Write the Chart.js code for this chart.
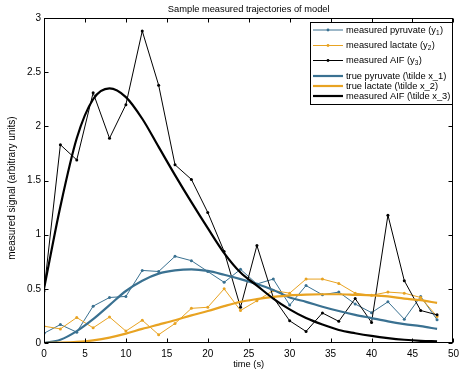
<!DOCTYPE html>
<html><head><meta charset="utf-8">
<script src="https://cdn.jsdelivr.net/npm/chart.js@4/dist/chart.umd.min.js"></script>
<style>html,body{margin:0;padding:0;background:#fff;overflow:hidden}canvas{display:block}</style>
</head><body>
<canvas id="c" width="464" height="375"></canvas>
<script>
const times = [0,2,4,6,8,10,12,14,16,18,20,22,24,26,28,30,32,34,36,38,40,42,44,46,48];
const measuredPyruvate = [0.09,0.17,0.10,0.34,0.42,0.43,0.67,0.66,0.80,0.76,0.66,0.56,0.68,0.545,0.59,0.35,0.53,0.445,0.47,0.36,0.28,0.38,0.22,0.43,0.215];
const measuredLactate = [0.155,0.13,0.235,0.14,0.24,0.11,0.21,0.077,0.18,0.32,0.33,0.50,0.30,0.39,0.485,0.46,0.59,0.59,0.55,0.46,0.44,0.47,0.46,0.42,0.245];
const measuredAIF = [0.48,1.83,1.69,2.31,1.89,2.20,2.88,2.38,1.645,1.51,1.205,0.845,0.33,0.90,0.42,0.205,0.107,0.277,0.2,0.41,0.19,1.18,0.575,0.30,0.26];
const truePyruvate = [0,0.03,0.11,0.22,0.35,0.48,0.575,0.64,0.67,0.68,0.665,0.63,0.59,0.545,0.49,0.42,0.38,0.335,0.295,0.26,0.23,0.2,0.175,0.155,0.13];
const trueLactate = [0,0.003,0.01,0.025,0.05,0.086,0.13,0.17,0.21,0.255,0.295,0.34,0.38,0.405,0.425,0.44,0.447,0.45,0.45,0.445,0.44,0.43,0.41,0.395,0.37];
const trueAIF = [0.5,1.26,1.89,2.25,2.35,2.27,2.07,1.81,1.55,1.30,1.06,0.83,0.65,0.53,0.41,0.31,0.23,0.17,0.12,0.09,0.065,0.045,0.03,0.02,0.015];
const xTicks = [0,5,10,15,20,25,30,35,40,45,50];
const yTicks = [0,0.5,1,1.5,2,2.5,3];
const chartTitle = 'Sample measured trajectories of model';
const xTitle = 'time (s)';
const yTitle = 'measured signal (arbitrary units)';
const legendLabels = [
  ['measured pyruvate (y','1',')'],
  ['measured lactate (y','2',')'],
  ['measured AIF (y','3',')'],
  ['true pyruvate (\\tilde x_1)','',''],
  ['true lactate (\\tilde x_2)','',''],
  ['measured AIF (\\tilde x_3)','','']
];

const FONT = '"Liberation Sans", Arial, Helvetica, sans-serif';
const BLUE = '#3a7191', ORANGE = '#e8a322', BLACK = '#000000';
const pts = arr => times.map((t,i)=>({x:t,y:arr[i]}));
function measured(arr,color,order){
  return {data:pts(arr),borderColor:color,backgroundColor:color,borderWidth:1,pointRadius:1.5,pointBorderWidth:0,pointHoverRadius:0,tension:0,order:order,fill:false};
}
function truth(arr,color,order){
  return {data:pts(arr),borderColor:color,backgroundColor:color,borderWidth:2.2,pointRadius:0,cubicInterpolationMode:'monotone',order:order,fill:false};
}

const decor = {
  id:'decor',
  afterDatasetsDraw(chart){
    const ctx = chart.ctx, a = chart.chartArea, xs = chart.scales.x, ys = chart.scales.y;
    ctx.save();
    ctx.strokeStyle = '#000'; ctx.lineWidth = 1;
    const L = Math.round(a.left)+0.5, R = Math.round(a.right)-0.5, T = Math.round(a.top)+0.5, B = Math.round(a.bottom)-0.5;
    ctx.strokeRect(L, T, R-L, B-T);
    ctx.beginPath();
    xTicks.forEach(v=>{const x = Math.round(xs.getPixelForValue(v))+0.5; ctx.moveTo(x,B); ctx.lineTo(x,B-4); ctx.moveTo(x,T); ctx.lineTo(x,T+4);});
    yTicks.forEach(v=>{const y = Math.round(ys.getPixelForValue(v))+0.5; ctx.moveTo(L,y); ctx.lineTo(L+4,y); ctx.moveTo(R,y); ctx.lineTo(R-4,y);});
    ctx.stroke();
    ctx.fillStyle = '#000';
    ctx.textAlign = 'center'; ctx.textBaseline = 'middle';
    ctx.font = '9.3px ' + FONT;
    ctx.fillText(chartTitle, (a.left+a.right)/2, 9);
    ctx.fillText(xTitle, (a.left+a.right)/2, 364);
    ctx.save();
    ctx.font = '10px ' + FONT;
    ctx.translate(12, 188); ctx.rotate(-Math.PI/2);
    ctx.fillText(yTitle, 0, 0);
    ctx.restore();
    const bx = 310.5, by = 22.5, bw = 142, bh = 82;
    ctx.fillStyle = '#fff'; ctx.fillRect(bx, by, bw, bh);
    ctx.strokeStyle = '#000'; ctx.lineWidth = 1; ctx.strokeRect(bx, by, bw, bh);
    const rows = [30, 45.5, 60.5, 76, 86, 96];
    chart.data.datasets.forEach((ds,i)=>{
      const y = rows[i];
      ctx.strokeStyle = ds.borderColor; ctx.lineWidth = ds.borderWidth;
      ctx.beginPath(); ctx.moveTo(313, y); ctx.lineTo(343, y); ctx.stroke();
      if (ds.pointRadius > 0){ ctx.fillStyle = ds.borderColor; ctx.beginPath(); ctx.arc(328, y, 1.4, 0, Math.PI*2); ctx.fill(); }
      const lab = legendLabels[i];
      ctx.fillStyle = '#000'; ctx.textAlign = 'left'; ctx.textBaseline = 'middle';
      ctx.font = '9.3px ' + FONT;
      let x = 346;
      ctx.fillText(lab[0], x, y); x += ctx.measureText(lab[0]).width;
      if (lab[1]){
        ctx.font = '6.5px ' + FONT; ctx.fillText(lab[1], x, y+3); x += ctx.measureText(lab[1]).width;
        ctx.font = '9.3px ' + FONT; ctx.fillText(lab[2], x+0.5, y);
      }
    });
    ctx.restore();
  }
};

new Chart(document.getElementById('c').getContext('2d'), {
  type:'line',
  data:{datasets:[
    measured(measuredPyruvate, BLUE, 6),
    measured(measuredLactate, ORANGE, 5),
    measured(measuredAIF, BLACK, 4),
    truth(truePyruvate, BLUE, 3),
    truth(trueLactate, ORANGE, 2),
    truth(trueAIF, BLACK, 1)
  ]},
  options:{
    responsive:false, animation:false, devicePixelRatio:1,
    layout:{padding:{top:18,right:7,left:0,bottom:0}},
    plugins:{legend:{display:false},tooltip:{enabled:false},title:{display:false}},
    scales:{
      x:{type:'linear',min:0,max:50,
        afterBuildTicks:s=>{s.ticks = xTicks.map(v=>({value:v}));},
        afterFit:s=>{s.height = 32;},
        grid:{display:false,drawTicks:false}, border:{display:false},
        ticks:{padding:5,color:'#000',font:{family:FONT,size:10},maxRotation:0,autoSkip:false,callback:v=>String(v)}},
      y:{type:'linear',min:0,max:3,
        afterBuildTicks:s=>{s.ticks = yTicks.map(v=>({value:v}));},
        afterFit:s=>{s.width = 44;},
        grid:{display:false,drawTicks:false}, border:{display:false},
        ticks:{padding:3,color:'#000',font:{family:FONT,size:10},autoSkip:false,callback:v=>String(v)}}
    }
  },
  plugins:[decor]
});
</script>
</body></html>
